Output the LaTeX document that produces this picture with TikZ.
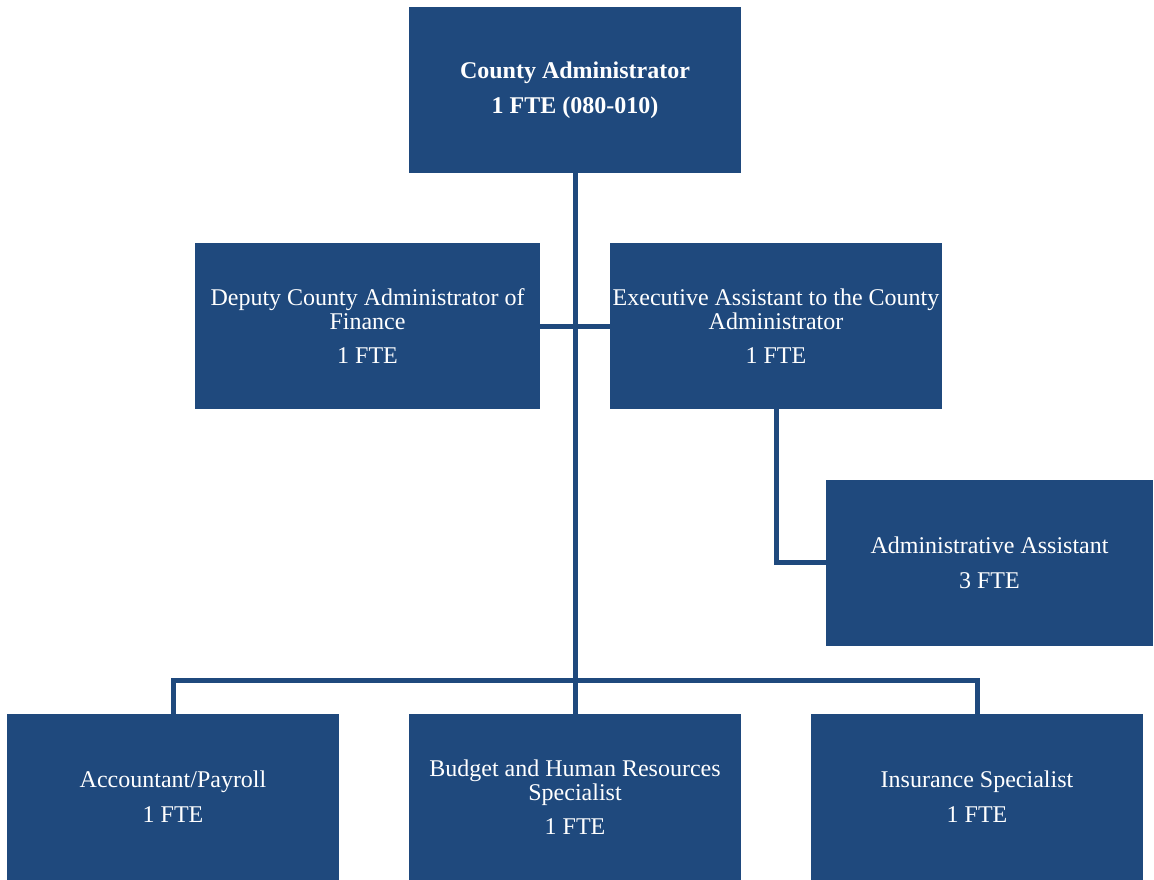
\documentclass[tikz,border=0pt]{standalone}
\usepackage{fontspec}
\setmainfont{Liberation Serif}
\definecolor{navy}{RGB}{31,73,125}
\begin{document}
\begin{tikzpicture}[x=1pt,y=-1pt,
  box/.style={fill=navy, draw=none, text=white, inner sep=0pt, align=center,
    minimum height=166pt, font=\fontsize{24}{24}\selectfont},
  link/.style={draw=navy, line width=5pt}]
\useasboundingbox (0,0) rectangle (1154,880);
\node[box, minimum width=332pt, font=\bfseries\fontsize{24}{24}\selectfont] (ca) at (575,90) {County Administrator\\[11pt]1 FTE (080-010)};
\node[box, minimum width=345pt] (dep) at (367.5,326) {Deputy County Administrator of\\Finance\\[10pt]1 FTE};
\node[box, minimum width=332pt] (exe) at (776,326) {Executive Assistant to the County\\Administrator\\[10pt]1 FTE};
\node[box, minimum width=327pt] (adm) at (989.5,562.5) {Administrative Assistant\\[11pt]3 FTE};
\node[box, minimum width=332pt] (acc) at (173,797) {Accountant/Payroll\\[11pt]1 FTE};
\node[box, minimum width=332pt] (bud) at (575,797) {Budget and Human Resources\\Specialist\\[10pt]1 FTE};
\node[box, minimum width=332pt] (ins) at (977,797) {Insurance Specialist\\[11pt]1 FTE};
\coordinate (bus) at (575,680);
\draw[link] (ca.south) -- (bud.north);
\draw[link] (dep.east) -- (exe.west);
\draw[link] (exe.south) |- (adm.west);
\draw[link] (acc.north) |- (bus) -| (ins.north);
\end{tikzpicture}
\end{document}
